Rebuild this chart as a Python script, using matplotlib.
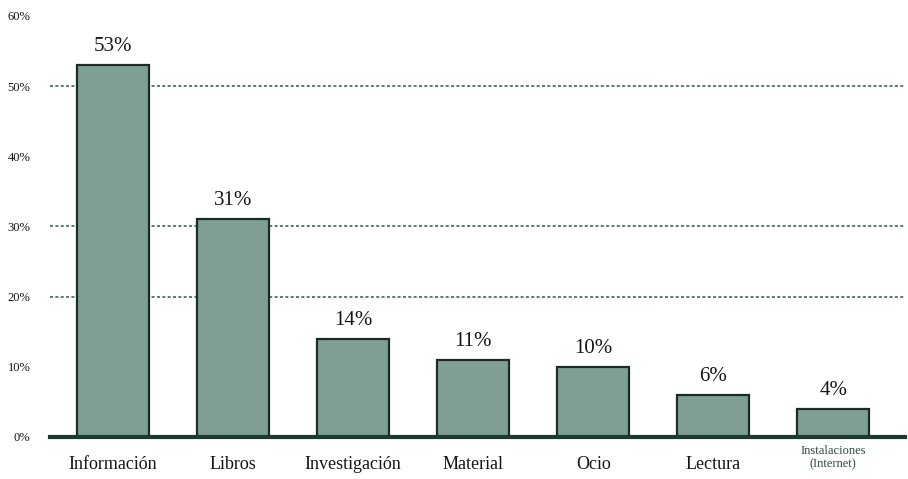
import matplotlib
matplotlib.use("Agg")
import matplotlib.pyplot as plt

categories = ["Información", "Libros", "Investigación", "Material", "Ocio", "Lectura", "Instalaciones\n(Internet)"]
values = [53, 31, 14, 11, 10, 6, 4]
yticks = [0, 10, 20, 30, 40, 50, 60]
grid_levels = [20, 30, 50]

plt.rcParams['font.family'] = ['Liberation Serif', 'DejaVu Serif']

fig = plt.figure(figsize=(9.08, 4.79), dpi=100)
ax = fig.add_axes([0.055, 0.0877, 0.942, 0.879])

x = list(range(len(categories)))
for g in grid_levels:
    ax.axhline(g, color="#2f5a4e", linestyle=(0, (2, 1.5)), linewidth=1.1, zorder=1)
ax.bar(x, values, width=0.6, color="#7f9f94", edgecolor="#1c2b26", linewidth=1.6, zorder=2)
for xi, v in zip(x, values):
    ax.text(xi, v + 1.3, f"{v}%", ha="center", va="bottom", fontsize=15, color="#151515")

ax.set_xlim(-0.525, 6.6)
ax.set_ylim(0, 60)
ax.set_yticks(yticks)
ax.set_yticklabels([f"{t}%" for t in yticks], fontsize=9, color="#151515")
ax.set_xticks(x)
ax.set_xticklabels(categories[:-1] + [""], fontsize=13, color="#151515")
ax.annotate(categories[-1], xy=(x[-1], 0), xycoords="data", xytext=(0, -6),
            textcoords="offset points", ha="center", va="top", fontsize=9,
            color="#2a4a40", linespacing=1.1, annotation_clip=False)
ax.tick_params(axis="both", length=0)
ax.tick_params(axis="y", pad=14)
ax.tick_params(axis="x", pad=14)
for s in ["top", "right", "left"]:
    ax.spines[s].set_visible(False)
ax.spines["bottom"].set_color("#1c3a32")
ax.spines["bottom"].set_linewidth(3)
ax.spines["bottom"].set_zorder(3)

fig.savefig("out.png", dpi=100)
